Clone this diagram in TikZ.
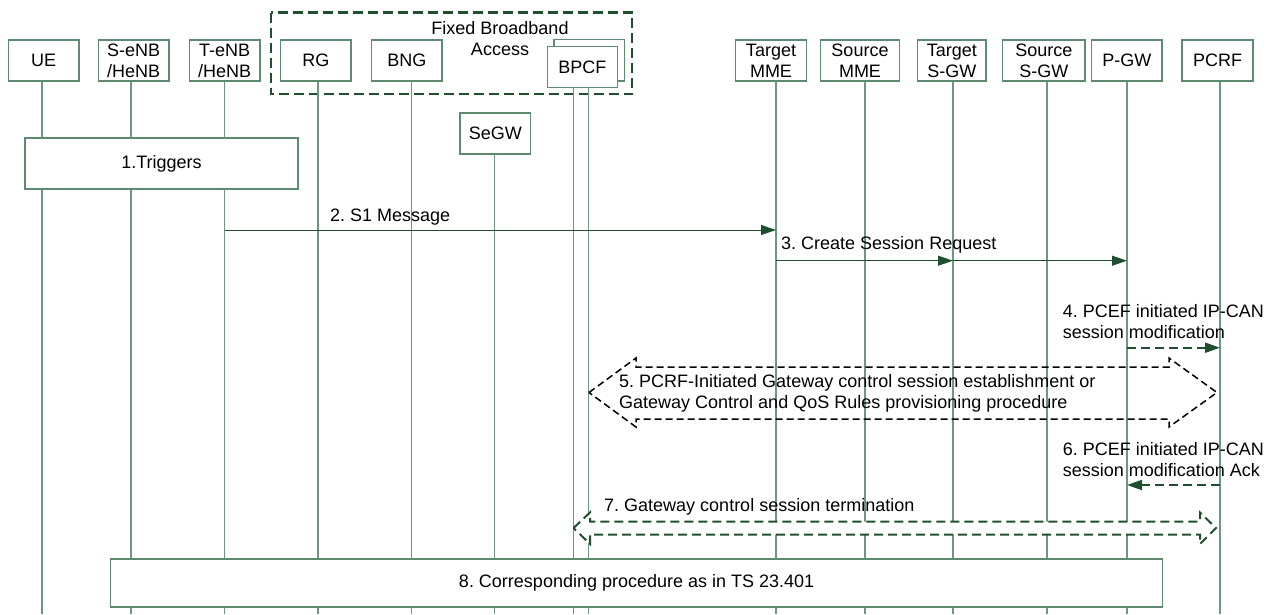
\documentclass[tikz,border=0pt]{standalone}
\usepackage{fontspec}
\setmainfont{Liberation Sans}
\usetikzlibrary{arrows.meta}
\definecolor{dkgreen}{HTML}{1F4F2E}
\definecolor{lgreen}{HTML}{6F9680}
\definecolor{bgreen}{HTML}{5E8A70}
\frenchspacing
\begin{document}
\begin{tikzpicture}[x=1pt,y=-1pt,
  every node/.style={font=\fontsize{18}{21}\selectfont\frenchspacing, inner sep=0pt, text=black},
  ent/.style={draw=bgreen, line width=1.2pt, fill=white, align=center, minimum height=41pt},
  life/.style={draw=lgreen, line width=1.2pt},
  grp/.style={draw=dkgreen, line width=2.2pt, dash pattern=on 10pt off 5pt},
  msg/.style={draw=dkgreen, line width=1pt, -{Triangle[length=15pt,width=10pt]}},
  dmsg/.style={draw=dkgreen, line width=2pt, dash pattern=on 9pt off 5pt, -{Triangle[length=15pt,width=10pt]}},
  blockblack/.style={draw=black, line width=1.5pt, dash pattern=on 7pt off 4pt},
  blockgreen/.style={draw=dkgreen, fill=white, line width=2pt, dash pattern=on 9pt off 5pt},
  procbox/.style={draw=bgreen, line width=1.2pt, fill=white}
]
\useasboundingbox (0,0) rectangle (1275,614);
\fill[white] (0,0) rectangle (1275,614);

% lifeline x positions
\coordinate (Lue) at (42,0);
\coordinate (Lsenb) at (131,0);
\coordinate (Ltenb) at (224.5,0);
\coordinate (Lrg) at (318,0);
\coordinate (Lbng) at (411.5,0);
\coordinate (Lsegw) at (494.5,0);
\coordinate (Lbpa) at (573.5,0);
\coordinate (Lbpb) at (588.5,0);
\coordinate (Ltmme) at (776,0);
\coordinate (Lsmme) at (865,0);
\coordinate (Ltsgw) at (953,0);
\coordinate (Lssgw) at (1047,0);
\coordinate (Lpgw) at (1127,0);
\coordinate (Lpcrf) at (1220,0);
\coordinate (bot) at (0,614);

% group box
\draw[grp] (270.7,12.5) rectangle (632.3,94.3);
\node[align=center] (fba) at (500,39) {Fixed Broadband\\Access};

% entity boxes
\node[ent, minimum width=70.7pt] (ue) at (43.7,60.5) {UE};
\node[ent, minimum width=70.7pt] (senb) at (133.7,60.5) {S-eNB\\/HeNB};
\node[ent, minimum width=70.7pt] (tenb) at (224.7,60.5) {T-eNB\\/HeNB};
\node[ent, minimum width=70.3pt] (rg) at (315.8,60.5) {RG};
\node[ent, minimum width=70.3pt] (bng) at (406.8,60.5) {BNG};
\node[ent, minimum width=70.3pt, minimum height=41.7pt] (bpcfback) at (589.2,60.2) {};
\node[ent, minimum width=70pt, minimum height=40.6pt] (bpcf) at (582.3,67) {BPCF};
\node[ent, minimum width=70.7pt] (segw) at (495.3,133.5) {SeGW};
\node[ent, minimum width=70.7pt] (tmme) at (771,60.5) {Target\\MME};
\node[ent, minimum width=79.6pt] (smme) at (860,60.5) {Source\\MME};
\node[ent, minimum width=68.5pt] (tsgw) at (951.8,60.5) {Target\\S-GW};
\node[ent, minimum width=82.5pt] (ssgw) at (1043.8,60.5) {Source\\S-GW};
\node[ent, minimum width=70.4pt] (pgw) at (1126.8,60.5) {P-GW};
\node[ent, minimum width=71pt] (pcrf) at (1217.5,60.5) {PCRF};

% lifelines
\draw[life] (ue.south -| Lue) -- (Lue |- bot);
\draw[life] (senb.south -| Lsenb) -- (Lsenb |- bot);
\draw[life] (tenb.south -| Ltenb) -- (Ltenb |- bot);
\draw[life] (rg.south -| Lrg) -- (Lrg |- bot);
\draw[life] (bng.south -| Lbng) -- (Lbng |- bot);
\draw[life] (segw.south -| Lsegw) -- (Lsegw |- bot);
\draw[life] (bpcf.south -| Lbpa) -- (Lbpa |- bot);
\draw[life] (bpcf.south -| Lbpb) -- (Lbpb |- bot);
\draw[life] (tmme.south -| Ltmme) -- (Ltmme |- bot);
\draw[life] (smme.south -| Lsmme) -- (Lsmme |- bot);
\draw[life] (tsgw.south -| Ltsgw) -- (Ltsgw |- bot);
\draw[life] (ssgw.south -| Lssgw) -- (Lssgw |- bot);
\draw[life] (pgw.south -| Lpgw) -- (Lpgw |- bot);
\draw[life] (pcrf.south -| Lpcrf) -- (Lpcrf |- bot);

% 1. Triggers
\node[procbox, minimum width=273pt, minimum height=51pt] (trig) at (161.5,163.5) {1.Triggers};

% 2. S1 Message
\coordinate (y2) at (0,230);
\draw[msg] (Ltenb |- y2) -- (Ltmme |- y2);
\node[anchor=west] (t2) at (330,217) {2. S1 Message};

% 3. Create Session Request
\coordinate (y3) at (0,260.7);
\draw[msg] (Ltmme |- y3) -- (Ltsgw |- y3);
\draw[msg] (Ltsgw |- y3) -- (Lpgw |- y3);
\node[anchor=west] (t3) at (781,245) {3. Create Session Request};

% 4.
\coordinate (y4) at (0,347.7);
\node[anchor=west, align=left] (t4) at (1062.7,321.7) {4. PCEF initiated IP-CAN\\session modification};
\draw[dmsg] (Lpgw |- y4) -- (Lpcrf |- y4);

% 5. block double arrow (black dashed)
\coordinate (a5l) at (589,392.5);
\coordinate (a5r) at (1217,392.5);
\draw[blockblack] (a5l) -- (636,358) -- (636,367) -- (1169,367) -- (1169,358) -- (a5r)
  -- (1169,427) -- (1169,419) -- (636,419) -- (636,427) -- cycle;
\node[anchor=west, align=left] (t5) at (619,393.5) {5. PCRF-Initiated Gateway control session establishment or\\Gateway Control and QoS Rules provisioning procedure};

% 6.
\coordinate (y6) at (0,485);
\node[anchor=west, align=left] (t6) at (1062.7,459.6) {6. PCEF initiated IP-CAN\\session modification Ack};
\draw[dmsg] (Lpcrf |- y6) -- (Lpgw |- y6);

% 7. block double arrow (green dashed)
\coordinate (a7l) at (573.5,528);
\coordinate (a7r) at (1216,528);
\draw[blockgreen] (a7l) -- (590,512.5) -- (590,521.5) -- (1200,521.5) -- (1200,512.5) -- (a7r)
  -- (1200,544) -- (1200,534.5) -- (590,534.5) -- (590,544) -- cycle;
\node[anchor=west] (t7) at (604,507) {7. Gateway control session termination};

% 8.
\node[procbox, minimum width=1052pt, minimum height=48pt] (proc8) at (636.6,583) {8. Corresponding procedure as in TS 23.401};
\end{tikzpicture}
\end{document}
